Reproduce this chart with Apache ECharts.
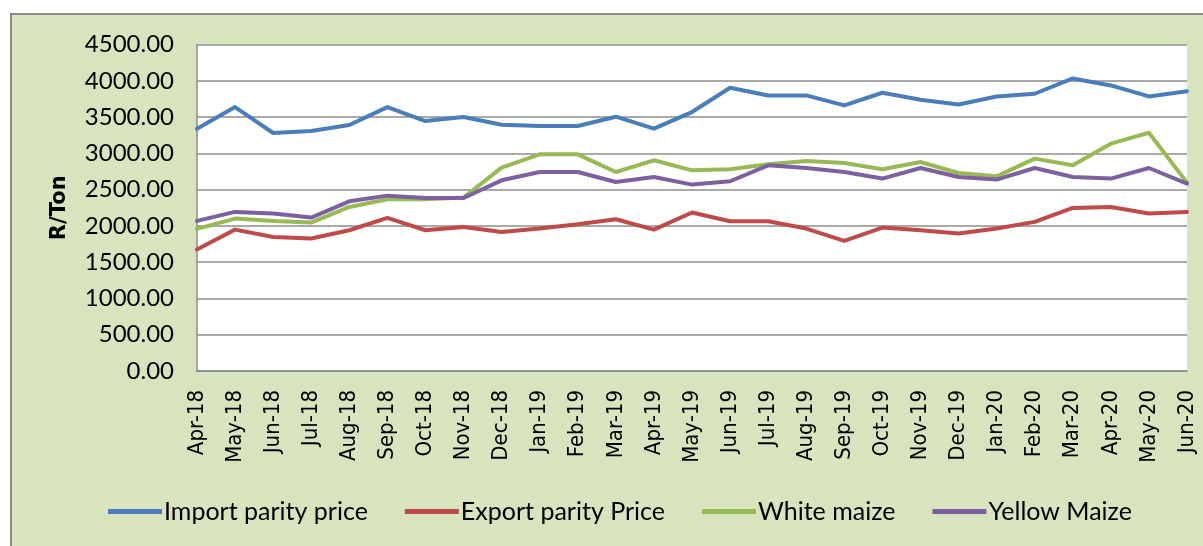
<!DOCTYPE html>
<html>
<head>
<meta charset="utf-8">
<script src="https://cdn.jsdelivr.net/npm/echarts@6/dist/echarts.min.js"></script>
<style>
  html, body { margin: 0; padding: 0; background: #fff; }
  #chart { width: 1203px; height: 546px; }
</style>
</head>
<body>
<div id="chart"></div>
<script>
// months on the x axis
const months = ['Apr-18', 'May-18', 'Jun-18', 'Jul-18', 'Aug-18', 'Sep-18', 'Oct-18', 'Nov-18', 'Dec-18',
    'Jan-19', 'Feb-19', 'Mar-19', 'Apr-19', 'May-19', 'Jun-19', 'Jul-19', 'Aug-19', 'Sep-19', 'Oct-19',
    'Nov-19', 'Dec-19', 'Jan-20', 'Feb-20', 'Mar-20', 'Apr-20', 'May-20', 'Jun-20'];

// R/Ton
const importParity = [3340, 3637, 3280, 3307, 3390, 3637, 3445, 3500, 3395, 3376, 3376, 3505, 3340, 3569,
    3904, 3798, 3798, 3661, 3835, 3739, 3674, 3784, 3821, 4032, 3936, 3784, 3857];
const exportParity = [1674, 1949, 1848, 1826, 1940, 2110, 1940, 1986, 1917, 1963, 2023, 2092, 1949, 2184,
    2064, 2064, 1963, 1793, 1977, 1940, 1894, 1963, 2055, 2248, 2261, 2170, 2193];
const whiteMaize = [1958, 2101, 2069, 2046, 2261, 2367, 2367, 2390, 2803, 2986, 2986, 2743, 2904, 2766,
    2780, 2849, 2894, 2867, 2780, 2881, 2729, 2683, 2927, 2835, 3133, 3284, 2596];
const yellowMaize = [2069, 2193, 2170, 2115, 2339, 2417, 2385, 2385, 2628, 2743, 2743, 2605, 2674, 2569,
    2615, 2835, 2798, 2743, 2652, 2798, 2674, 2638, 2798, 2674, 2652, 2798, 2583];

const seriesNames = ['Import parity price', 'Export parity Price', 'White maize', 'Yellow Maize'];
const colors = ['#4a7ebb', '#be4b48', '#98b954', '#7d60a0'];

const myChart = echarts.init(document.getElementById('chart'));

const lineSeries = (name, data, color) => ({
    name: name,
    type: 'line',
    data: data,
    symbol: 'none',
    lineStyle: { width: 4, color: color, cap: 'round', join: 'round' },
    itemStyle: { color: color },
});

myChart.setOption({
    animation: false,
    color: colors,
    graphic: [{
        type: 'rect',
        z: -10,
        silent: true,
        shape: { x: 11, y: 14, width: 1300, height: 600 },
        style: { fill: '#d7e4bd', stroke: '#8c8c8c', lineWidth: 2 },
    }],
    grid: {
        left: 197, top: 44.5, right: 16, bottom: 175,
        show: true, backgroundColor: '#fff', borderWidth: 0,
    },
    legend: {
        data: seriesNames,
        left: 103,
        top: 494,
        icon: 'rect',
        itemWidth: 54,
        itemHeight: 5,
        itemGap: 37,
        textStyle: { fontFamily: 'Lato', fontSize: 25, color: '#000', padding: [0, 0, 0, -3] },
    },
    xAxis: {
        type: 'category',
        boundaryGap: false,
        data: months,
        axisLine: { lineStyle: { color: '#8c8c8c', width: 1.5 } },
        axisTick: { show: false },
        axisLabel: {
            interval: 0,
            rotate: 90,
            margin: 19,
            fontFamily: 'DejaVu Sans Condensed',
            fontSize: 22,
            color: '#000',
        },
    },
    yAxis: {
        type: 'value',
        min: 0,
        max: 4500,
        interval: 500,
        name: 'R/Ton',
        nameLocation: 'middle',
        nameRotate: 90,
        nameGap: 137,
        nameTextStyle: {
            fontFamily: 'DejaVu Sans', fontWeight: 'bold', fontSize: 21, color: '#000',
            align: 'center', verticalAlign: 'middle',
        },
        axisLine: { show: true, lineStyle: { color: '#8c8c8c', width: 1.5 } },
        axisTick: { show: false },
        splitLine: { lineStyle: { color: '#8c8c8c', width: 1.5 } },
        axisLabel: {
            margin: 23,
            fontFamily: 'Lato',
            fontSize: 24,
            color: '#000',
            formatter: v => v.toFixed(2),
        },
    },
    series: [
        lineSeries(seriesNames[0], importParity, colors[0]),
        lineSeries(seriesNames[1], exportParity, colors[1]),
        lineSeries(seriesNames[2], whiteMaize, colors[2]),
        lineSeries(seriesNames[3], yellowMaize, colors[3]),
    ],
});
</script>
</body>
</html>
